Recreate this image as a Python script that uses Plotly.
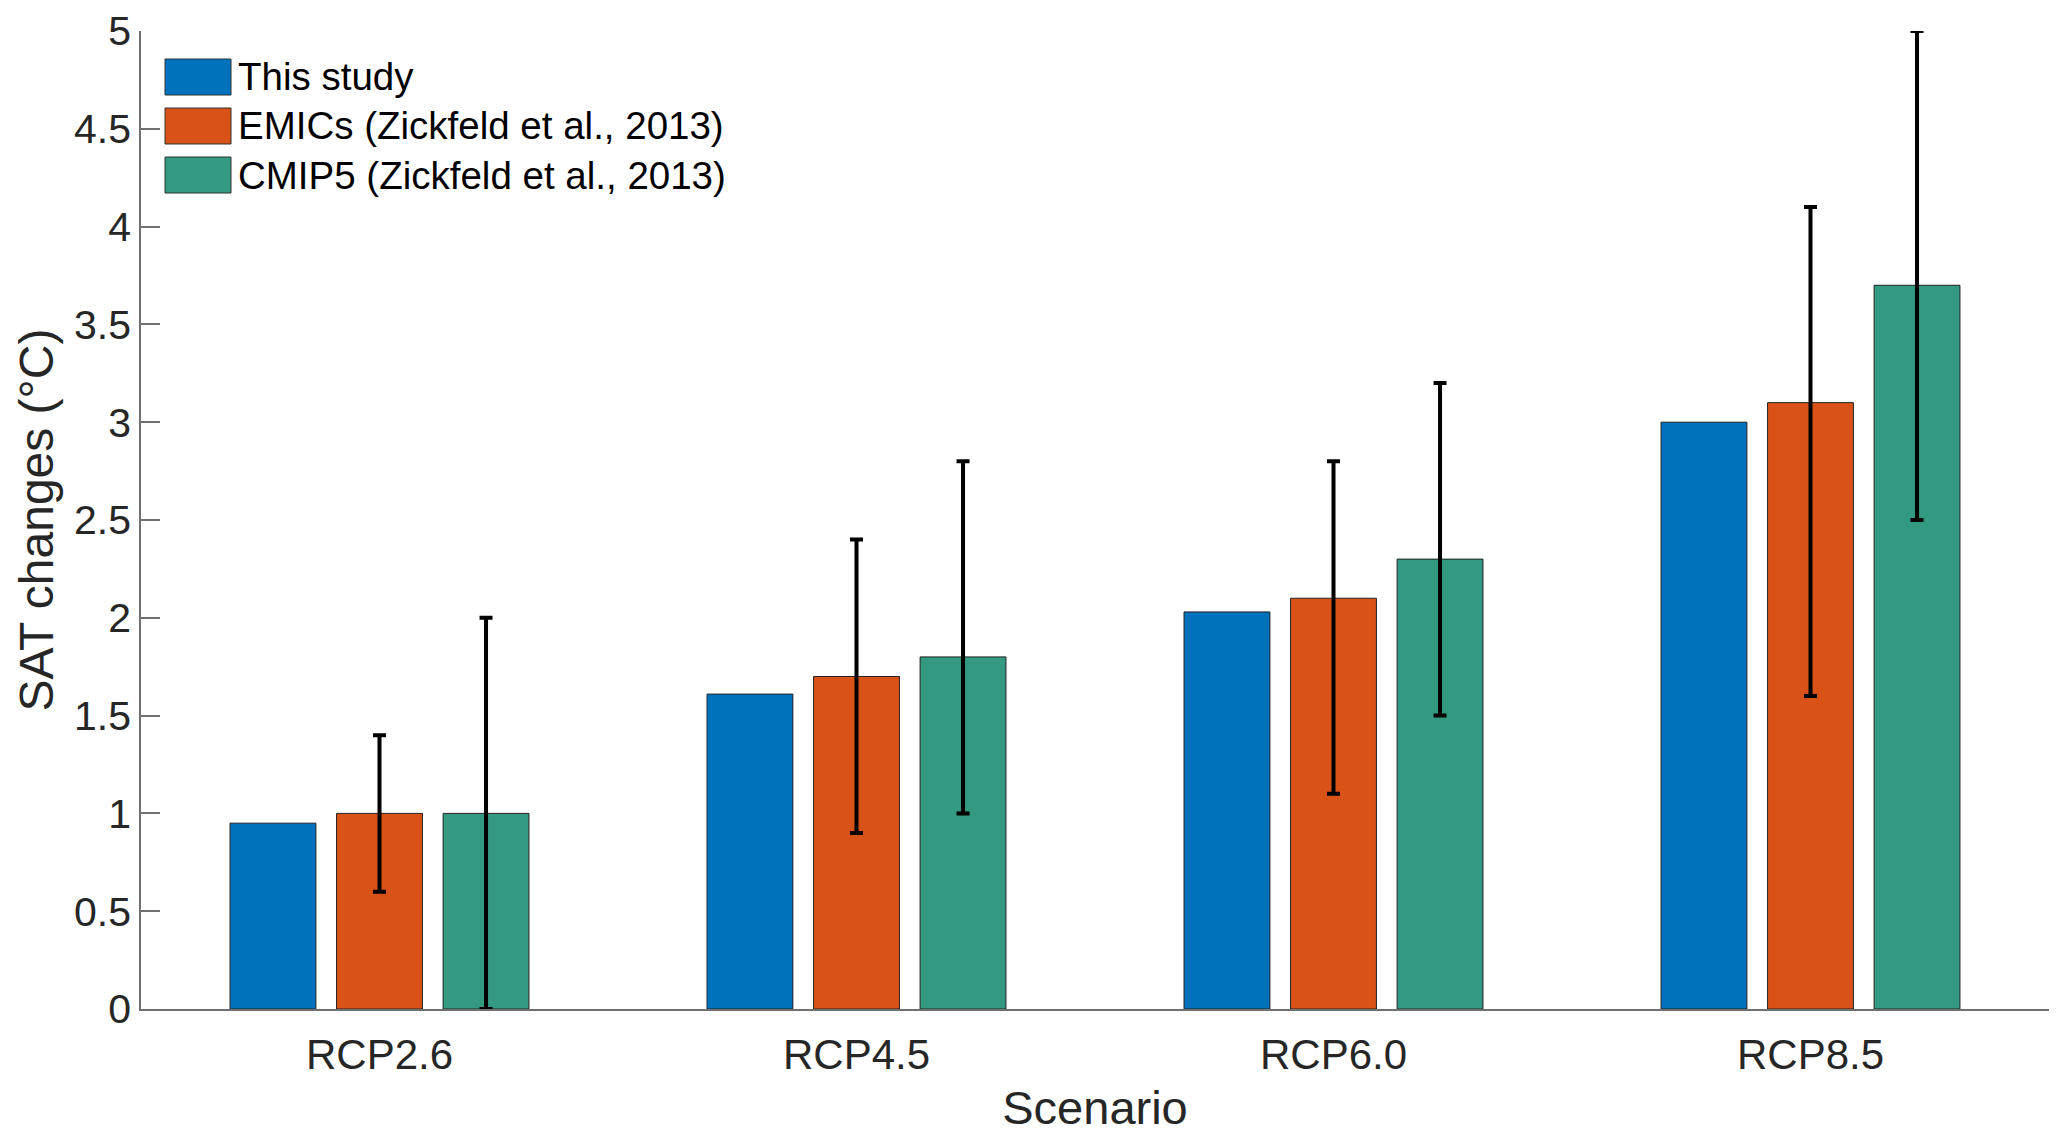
import plotly.graph_objects as go

# ---- data ----
scenarios = ["RCP2.6", "RCP4.5", "RCP6.0", "RCP8.5"]
series_names = ["This study", "EMICs (Zickfeld et al., 2013)", "CMIP5 (Zickfeld et al., 2013)"]
this_study = [0.95, 1.61, 2.03, 3.00]
emics = [1.0, 1.7, 2.1, 3.1]
emics_low = [0.6, 0.9, 1.1, 1.6]
emics_high = [1.4, 2.4, 2.8, 4.1]
cmip5 = [1.0, 1.8, 2.3, 3.7]
cmip5_low = [0.0, 1.0, 1.5, 2.5]
cmip5_high = [2.0, 2.8, 3.2, 5.0]
colors = ["#0072BD", "#D95319", "#339980"]
y_ticks = [0, 0.5, 1, 1.5, 2, 2.5, 3, 3.5, 4, 4.5, 5]

W, H = 2067, 1142
L, R, T, B = 141, 18, 31, 133
pw, ph = W - L - R, H - T - B

def px(x):
    return (x - L) / pw

def py(y):
    return (H - B - y) / ph

FONT = "Liberation Sans, Arial, Helvetica, sans-serif"

fig = go.Figure()

def err(vals, lo, hi):
    return dict(type="data", symmetric=False,
                array=[h - v for v, h in zip(vals, hi)],
                arrayminus=[v - l for v, l in zip(vals, lo)],
                color="black", thickness=4, width=6.5)

fig.add_trace(go.Bar(x=scenarios, y=this_study, name=series_names[0],
                     marker=dict(color=colors[0], line=dict(color="#222222", width=1))))
fig.add_trace(go.Bar(x=scenarios, y=emics, name=series_names[1],
                     marker=dict(color=colors[1], line=dict(color="#222222", width=1)),
                     error_y=err(emics, emics_low, emics_high)))
fig.add_trace(go.Bar(x=scenarios, y=cmip5, name=series_names[2],
                     marker=dict(color=colors[2], line=dict(color="#222222", width=1)),
                     error_y=err(cmip5, cmip5_low, cmip5_high)))

# custom legend (large swatches like the original)
shapes = []
annotations = []
rows = [77, 126, 175]
for name, col, yc in zip(series_names, colors, rows):
    shapes.append(dict(type="rect", xref="paper", yref="paper",
                       x0=px(165), x1=px(231), y0=py(yc + 18), y1=py(yc - 18),
                       fillcolor=col, line=dict(color="#333333", width=1)))
    annotations.append(dict(xref="paper", yref="paper", x=px(236), y=py(yc),
                            xanchor="left", yanchor="middle", showarrow=False,
                            text=name, font=dict(family=FONT, size=38.5, color="black")))

fig.update_layout(
    width=W, height=H,
    margin=dict(l=L, r=R, t=T, b=B, autoexpand=False),
    paper_bgcolor="white", plot_bgcolor="white",
    barmode="group", bargap=0.33, bargroupgap=0.194,
    showlegend=False,
    font=dict(family=FONT, size=42, color="#262626"),
    shapes=shapes, annotations=annotations,
)
fig.update_xaxes(
    range=[-0.5, 3.5], showline=True, linecolor="#707070", linewidth=1.5,
    ticks="", showgrid=False, zeroline=False, ticklabelstandoff=8,
    tickfont=dict(family=FONT, size=42, color="#262626"),
    title=dict(text="Scenario", font=dict(family=FONT, size=47, color="#262626"), standoff=14),
    automargin=False,
)
fig.update_yaxes(
    range=[0, 5], tickvals=y_ticks, showline=True, linecolor="#707070", linewidth=1.5,
    ticks="inside", ticklen=19, tickcolor="#707070", tickwidth=1.5,
    showgrid=False, zeroline=False,
    tickfont=dict(family=FONT, size=41, color="#262626"),
    title=dict(text="SAT changes (°C)", font=dict(family=FONT, size=48, color="#262626"), standoff=5),
    automargin=False,
)

fig.write_html("out.html", config={"displayModeBar": False},
               post_script="document.body.style.margin='0';document.body.style.padding='0';")
